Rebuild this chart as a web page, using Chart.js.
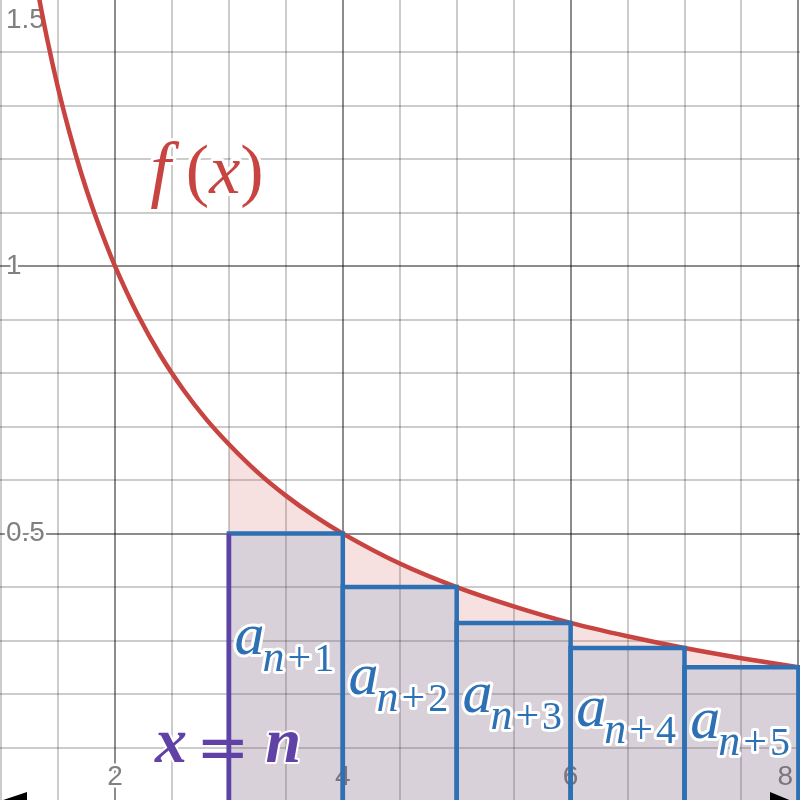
<!DOCTYPE html>
<html><head><meta charset="utf-8">
<script src="https://cdn.jsdelivr.net/npm/chart.js@4"></script>
<style>html,body{margin:0;padding:0;background:#fff;overflow:hidden}#c{display:block}</style>
</head><body>
<canvas id="c" width="800" height="800"></canvas>
<script>
// ---- data ----
const curveX = [1.30,1.40,1.50,1.60,1.70,1.80,1.90,2.00,2.20,2.40,2.60,2.80,3.00,3.25,3.50,3.75,4.00,4.50,5.00,5.50,6.00,6.50,7.00,7.50,8.00,8.10];
const curveY = [1.538,1.429,1.333,1.250,1.176,1.111,1.053,1.000,0.909,0.833,0.769,0.714,0.667,0.615,0.571,0.533,0.500,0.444,0.400,0.364,0.333,0.308,0.286,0.267,0.250,0.247];
const rectLeft = [3,4,5,6,7];
const rectRight = [4,5,6,7,8];
const rectHeight = [0.500,0.400,0.333,0.286,0.250];
const rectSub = ['1','2','3','4','5'];
const nLineX = 3;
const nLineTop = 0.5;
const areaStart = 3;
const xTickValues = [2,4,6,8];
const xTickLabels = ['2','4','6','8'];
const yTickValues = [0.5,1,1.5];
const yTickLabels = ['0.5','1','1.5'];

// ---- view ----
const X_MIN = 0.9904, X_MAX = 8.014, Y_MIN = 0.002, Y_MAX = 1.4975;
const RED = '#c74440', BLUE = '#2d70b3', PURPLE = '#6042a6';

const curvePts = curveX.map((x,i)=>({x, y: curveY[i]}));
const areaPts = curvePts.filter(p => p.x >= areaStart);

const datasets = [];
datasets.push({label:'area', data: areaPts, borderWidth:0, borderColor:'rgba(0,0,0,0)',
  backgroundColor:'rgba(199,68,64,0.16)', fill:{value:0}, pointRadius:0,
  cubicInterpolationMode:'monotone', order:10});
datasets.push({label:'f', data: curvePts, borderColor: RED, borderWidth:4.5, fill:false,
  pointRadius:0, cubicInterpolationMode:'monotone', order:9});
rectLeft.forEach((l,i)=>{
  const r = rectRight[i], h = rectHeight[i];
  datasets.push({label:'rect'+i, data:[{x:l,y:0},{x:l,y:h},{x:r,y:h},{x:r,y:0}],
    borderColor: BLUE, borderWidth:4.5, backgroundColor:'rgba(45,112,179,0.14)',
    fill:{value:0}, pointRadius:0, tension:0, borderJoinStyle:'miter', order:8-i*0.1});
});
datasets.push({label:'x=n', data:[{x:nLineX,y:0},{x:nLineX,y:nLineTop}], borderColor: PURPLE,
  borderWidth:4.5, fill:false, pointRadius:0, order:1});

function isMajor(v, step){ const q=v/step; return Math.abs(q-Math.round(q))<1e-6; }
const MINOR = 'rgba(0,0,0,0.2)', MAJOR = 'rgba(0,0,0,0.45)';

function drawRuns(ctx, runs, x, y, color, halo){
  let cx = x; const items = [];
  for (const r of runs){
    cx += (r.gap||0);
    ctx.font = r.font;
    items.push({t:r.t, font:r.font, x:cx, y:y+(r.dy||0), halo: r.halo!==false});
    cx += ctx.measureText(r.t).width;
  }
  ctx.save();
  ctx.textAlign='left'; ctx.textBaseline='alphabetic';
  ctx.lineJoin='round'; ctx.strokeStyle='#fff'; ctx.lineWidth=halo;
  if (halo>0) for (const it of items){ if(!it.halo) continue; ctx.font=it.font; ctx.strokeText(it.t,it.x,it.y); }
  ctx.fillStyle=color;
  for (const it of items){ ctx.font=it.font; ctx.fillText(it.t,it.x,it.y); }
  ctx.restore();
}

const tickPlugin = {
  id:'tickLabels',
  beforeDatasetsDraw(chart){
    const ctx = chart.ctx, xs = chart.scales.x, ys = chart.scales.y, a = chart.chartArea;
    ctx.save();
    ctx.font = '28px "Liberation Sans", Arial, sans-serif';
    ctx.lineJoin='round'; ctx.lineWidth=5; ctx.strokeStyle='#fff'; ctx.fillStyle='#808080';
    ctx.textBaseline='middle';
    ctx.textAlign='center';
    xTickValues.forEach((v,i)=>{
      const t = xTickLabels[i];
      const w = ctx.measureText(t).width;
      let px = xs.getPixelForValue(v);
      px = Math.min(px, a.right - 7 - w/2);
      const py = a.bottom - 23;
      ctx.strokeText(t, px, py); ctx.fillText(t, px, py);
    });
    ctx.textAlign='left';
    yTickValues.forEach((v,i)=>{
      const t = yTickLabels[i];
      let py = ys.getPixelForValue(v);
      py = Math.max(py, a.top + 20);
      const px = a.left + 6;
      ctx.strokeText(t, px, py); ctx.fillText(t, px, py);
    });
    ctx.restore();
  },
  afterDatasetsDraw(chart){
    const ctx = chart.ctx, xs = chart.scales.x, ys = chart.scales.y, a = chart.chartArea;
    const S = '"Liberation Serif", "Times New Roman", serif';
    // f(x)
    drawRuns(ctx, [
      {t:'f', font:'italic 74px '+S},
      {t:'(', font:'70px '+S, gap:15},
      {t:'x', font:'italic 70px '+S},
      {t:')', font:'70px '+S}
    ], xs.getPixelForValue(2.31), ys.getPixelForValue(1.137), RED, 6);
    // a_{n+k}
    const fracY = [0.55,0.50,0.50,0.49,0.47];
    rectLeft.forEach((l,i)=>{
      drawRuns(ctx, [
        {t:'a', font:'italic 60px '+S},
        {t:'n', font:'italic 44px '+S, dy:17, gap:-2},
        {t:'+', font:'42px '+S, dy:17, gap:3},
        {t:rectSub[i], font:'40px '+S, dy:17, gap:3}
      ], xs.getPixelForValue(l+0.05), ys.getPixelForValue(rectHeight[i]*fracY[i]), BLUE, 6);
    });
    // x = n
    drawRuns(ctx, [
      {t:'x', font:'italic bold 64px '+S},
      {t:'=', font:'64px "DejaVu Sans", sans-serif', gap:9, dy:7, halo:false},
      {t:'n', font:'italic bold 64px '+S, gap:16}
    ], xs.getPixelForValue(2.351), ys.getPixelForValue(0.0732), PURPLE, 4);
    // x-axis (y = 0) with arrowheads
    const py = ys.getPixelForValue(0);
    ctx.save();
    ctx.strokeStyle='#000'; ctx.lineWidth=2;
    ctx.beginPath(); ctx.moveTo(a.left,py); ctx.lineTo(a.right,py); ctx.stroke();
    ctx.fillStyle='#000';
    ctx.beginPath(); ctx.moveTo(a.left, py); ctx.lineTo(a.left+27, py-9); ctx.lineTo(a.left+27, py+9); ctx.closePath(); ctx.fill();
    ctx.beginPath(); ctx.moveTo(a.right-8, py); ctx.lineTo(a.right-30, py-9); ctx.lineTo(a.right-30, py+9); ctx.closePath(); ctx.fill();
    ctx.restore();
  }
};

new Chart(document.getElementById('c'), {
  type:'line',
  data:{datasets},
  options:{
    responsive:false, animation:false, devicePixelRatio:1, events:[],
    layout:{padding:0},
    plugins:{legend:{display:false}, tooltip:{enabled:false}},
    scales:{
      x:{type:'linear', min:X_MIN, max:X_MAX,
        ticks:{display:false, stepSize:0.5, includeBounds:false},
        border:{display:false},
        grid:{drawTicks:false, tickLength:0,
          color:c=>isMajor(c.tick.value,2)?MAJOR:MINOR,
          lineWidth:c=>2}},
      y:{type:'linear', min:Y_MIN, max:Y_MAX,
        ticks:{display:false, stepSize:0.1, includeBounds:false},
        border:{display:false},
        grid:{drawTicks:false, tickLength:0,
          color:c=>isMajor(c.tick.value,0.5)?MAJOR:MINOR,
          lineWidth:c=>2}}
    }
  },
  plugins:[tickPlugin]
});
</script>
</body></html>
